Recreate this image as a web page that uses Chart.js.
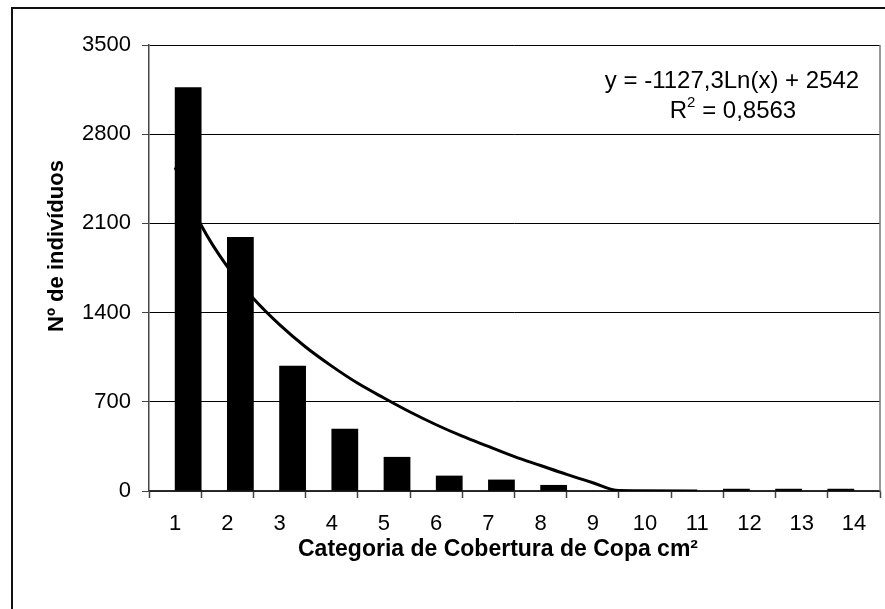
<!DOCTYPE html>
<html lang="pt">
<head>
<meta charset="UTF-8">
<title>Cobertura de Copa</title>
<script src="https://cdn.jsdelivr.net/npm/chart.js"></script>
<style>
  html, body { margin: 0; padding: 0; background: #fff; }
  #wrap { width: 885px; height: 609px; }
</style>
</head>
<body>
<div id="wrap"><canvas id="grafico"></canvas></div>
<script>
// categorias do eixo x
var categorias = ['1', '2', '3', '4', '5', '6', '7', '8', '9', '10', '11', '12', '13', '14'];
// nº de individuos por categoria (serie da metade direita)
var individuos = [3165, 1990, 980, 485, 265, 118, 87, 45, 0, 0, 0, 0, 0, 0];
// segunda serie (metade esquerda), so aparece nas ultimas categorias
var outros = [0, 0, 0, 0, 0, 0, 0, 0, 0, 0, 0, 15, 15, 15];
// linha de tendencia
var tendX = [1, 1.5, 2, 2.5, 3, 3.5, 4, 4.5, 5, 5.5, 6, 6.5, 7, 7.5, 8, 8.5, 9, 9.5, 11];
var tendY = [2540, 2085, 1760, 1510, 1305, 1130, 980, 845, 730, 620, 520, 430, 350, 270, 200, 130, 65, 3, 0];
// marcas do eixo y
var ticksY = [0, 700, 1400, 2100, 2800, 3500];

var fonte = '"Liberation Sans", Arial, sans-serif';

// cada categoria dividida em duas metades (esquerda / direita) num eixo escondido
var metades = [];
var dadosEsq = [];
var dadosDir = [];
categorias.forEach(function (c, i) {
    metades.push(c + 'e', c + 'd');
    dadosEsq.push(outros[i], null);
    dadosDir.push(null, individuos[i]);
});

var moldura = {
    id: 'moldura',
    beforeDraw: function (chart) {
        var ctx = chart.ctx;
        ctx.save();
        ctx.fillStyle = '#fff';
        ctx.fillRect(0, 0, chart.width, chart.height);
        ctx.strokeStyle = '#111';
        ctx.lineWidth = 2;
        ctx.strokeRect(12, 8, chart.width + 10, chart.height + 10);
        ctx.restore();
    },
    afterDatasetsDraw: function (chart) {
        var a = chart.chartArea;
        var ctx = chart.ctx;
        ctx.save();
        ctx.strokeStyle = '#777';
        ctx.lineWidth = 1.5;
        ctx.beginPath();
        ctx.moveTo(a.right, a.top);
        ctx.lineTo(a.right, a.bottom);
        ctx.stroke();
        ctx.restore();
    },
    afterDraw: function (chart) {
        var ctx = chart.ctx;
        ctx.save();
        ctx.fillStyle = '#000';
        ctx.textBaseline = 'alphabetic';

        // equacao
        ctx.font = '24px ' + fonte;
        ctx.textAlign = 'center';
        ctx.fillText('y = -1127,3Ln(x) + 2542', 732, 88);

        ctx.textAlign = 'left';
        var wR = ctx.measureText('R').width;
        var wResto = ctx.measureText(' = 0,8563').width;
        ctx.font = '15px ' + fonte;
        var w2 = ctx.measureText('2').width;
        var x0 = 733 - (wR + w2 + wResto) / 2;
        ctx.font = '24px ' + fonte;
        ctx.fillText('R', x0, 118);
        ctx.font = '15px ' + fonte;
        ctx.fillText('2', x0 + wR, 107);
        ctx.font = '24px ' + fonte;
        ctx.fillText(' = 0,8563', x0 + wR + w2, 118);

        // titulos dos eixos
        ctx.font = 'bold 23px ' + fonte;
        ctx.textAlign = 'center';
        ctx.fillText('Categoria de Cobertura de Copa cm²', 498, 556);

        ctx.font = 'bold 22px ' + fonte;
        ctx.translate(63, 246);
        ctx.rotate(-Math.PI / 2);
        ctx.fillText('Nº de indivíduos', 0, 0);
        ctx.restore();
    }
};

var ctx = document.getElementById('grafico').getContext('2d');

var grafico = new Chart(ctx, {
    type: 'bar',
    data: {
        labels: categorias,
        datasets: [{
            type: 'bar',
            label: 'outros',
            data: dadosEsq,
            xAxisID: 'xm',
            backgroundColor: '#000',
            borderWidth: 0,
            grouped: false,
            categoryPercentage: 1,
            barPercentage: 1,
            order: 0
        }, {
            type: 'bar',
            label: 'individuos',
            data: dadosDir,
            xAxisID: 'xm',
            backgroundColor: '#000',
            borderWidth: 0,
            grouped: false,
            categoryPercentage: 1,
            barPercentage: 1,
            order: 0
        }, {
            type: 'line',
            label: 'tendencia',
            data: tendX.map(function (x, i) { return { x: x, y: tendY[i] }; }),
            xAxisID: 'xl',
            yAxisID: 'y',
            borderColor: '#000',
            borderWidth: 3,
            pointRadius: 0,
            fill: false,
            cubicInterpolationMode: 'monotone',
            order: 1
        }]
    },
    options: {
        responsive: true,
        maintainAspectRatio: false,
        animation: false,
        layout: { padding: { top: 45, right: 5, left: 0, bottom: 0 } },
        plugins: {
            legend: { display: false },
            tooltip: { enabled: false }
        },
        scales: {
            x: {
                type: 'category',
                offset: true,
                border: { color: '#444', width: 1.5 },
                grid: {
                    offset: true,
                    drawOnChartArea: false,
                    tickLength: 7,
                    tickColor: '#444',
                    tickWidth: 1.5
                },
                ticks: {
                    color: '#000',
                    padding: 13,
                    maxRotation: 0,
                    font: { family: fonte, size: 22 }
                },
                afterFit: function (scale) { scale.height = 118; }
            },
            xm: {
                type: 'category',
                labels: metades,
                offset: true,
                display: false
            },
            xl: {
                type: 'linear',
                display: false,
                offset: false,
                min: 0.5,
                max: 14.5
            },
            y: {
                min: 0,
                max: 3500,
                border: { color: '#444', width: 1.5 },
                grid: {
                    color: '#000',
                    lineWidth: 1,
                    tickLength: 7,
                    tickColor: '#444'
                },
                ticks: {
                    color: '#000',
                    padding: 11,
                    font: { family: fonte, size: 22 },
                    callback: function (v) { return String(v); }
                },
                afterBuildTicks: function (scale) {
                    scale.ticks = ticksY.map(function (v) { return { value: v }; });
                },
                afterFit: function (scale) { scale.width = 149; }
            }
        }
    },
    plugins: [moldura]
});
</script>
</body>
</html>
